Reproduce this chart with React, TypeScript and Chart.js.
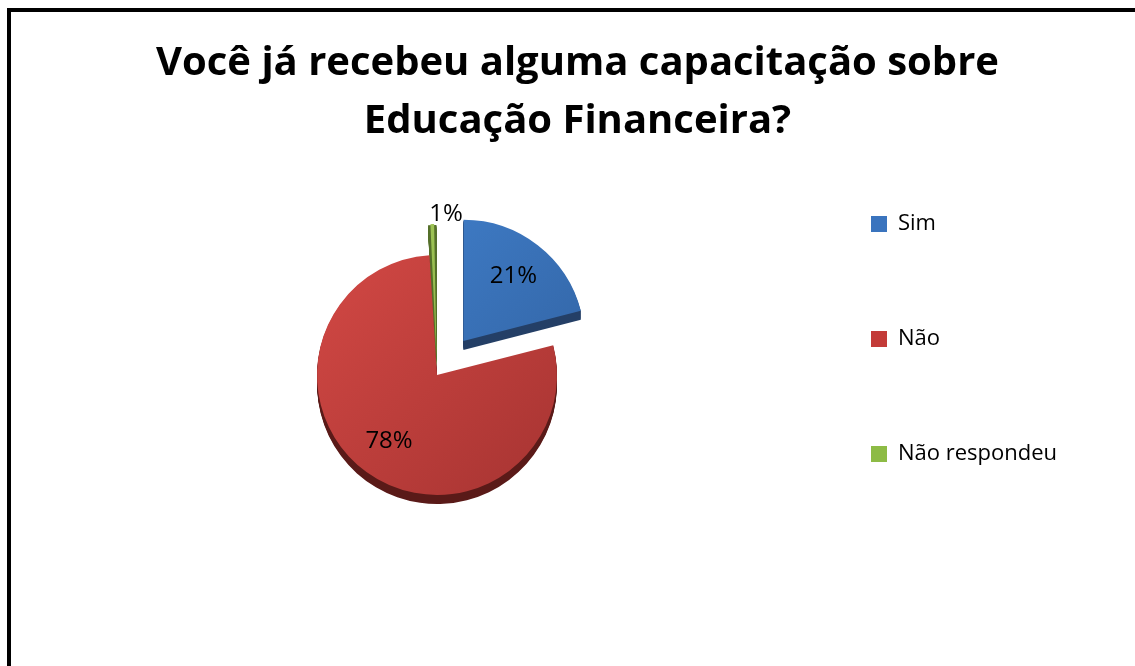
import React, { useEffect, useRef } from 'react';
import { Chart, registerables } from 'chart.js';

Chart.register(...registerables);

const TITLE_LINES = ['Você já recebeu alguma capacitação sobre', 'Educação Financeira?'];
const CATEGORIES = ['Sim', 'Não', 'Não respondeu'];
const VALUES = [21, 78, 1];
const PERCENT_LABELS = ['21%', '78%', '1%'];
const COLORS_LIGHT = ['#4282CF', '#D44945', '#A6CC5C'];
const COLORS_DARK = ['#2F5E9C', '#A53331', '#7FA33C'];
const COLORS_SIDE = ['#243F66', '#5A1A18', '#55702A'];
const LEGEND_COLORS = ['#3A74BE', '#C33B38', '#8DBB45'];
const OFFSETS = [172, 0, 64];

const FONT = "'Open Sans', 'DejaVu Sans', sans-serif";
const DEPTH = 9;

function sliceFill(ctx: any) {
  const chart = ctx.chart;
  const area = chart.chartArea;
  const i = ctx.dataIndex ?? 0;
  if (!area) return LEGEND_COLORS[i];
  const cx = (area.left + area.right) / 2;
  const cy = (area.top + area.bottom) / 2;
  const r = 130;
  const g = chart.ctx.createLinearGradient(cx - r, cy - r, cx + r, cy + r);
  g.addColorStop(0, COLORS_LIGHT[i]);
  g.addColorStop(1, COLORS_DARK[i]);
  return g;
}

function arcGeom(el: any) {
  const { x, y, startAngle, endAngle, outerRadius } = el.getProps(
    ['x', 'y', 'startAngle', 'endAngle', 'outerRadius'],
    true
  );
  const mid = (startAngle + endAngle) / 2;
  const off = (el.options.offset || 0) / 4;
  const circ = endAngle - startAngle;
  const boost = off * (1 - Math.sin(Math.min(Math.PI, circ)));
  return {
    cx: x + Math.cos(mid) * off,
    cy: y + Math.sin(mid) * off,
    startAngle,
    endAngle,
    mid,
    r: outerRadius + boost,
    outerRadius,
  };
}

const depthPlugin = {
  id: 'sliceDepth',
  beforeDatasetsDraw(chart: any) {
    const meta = chart.getDatasetMeta(0);
    const ctx = chart.ctx;
    ctx.save();
    meta.data.forEach((el: any, i: number) => {
      const g = arcGeom(el);
      ctx.fillStyle = COLORS_SIDE[i];
      for (let d = 1; d <= DEPTH; d++) {
        ctx.beginPath();
        ctx.moveTo(g.cx, g.cy + d);
        ctx.arc(g.cx, g.cy + d, g.r, g.startAngle, g.endAngle);
        ctx.closePath();
        ctx.fill();
      }
    });
    ctx.restore();
  },
};

const labelPlugin = {
  id: 'sliceLabels',
  afterDatasetsDraw(chart: any) {
    const meta = chart.getDatasetMeta(0);
    const ctx = chart.ctx;
    ctx.save();
    ctx.font = `24px ${FONT}`;
    ctx.fillStyle = '#000';
    ctx.textAlign = 'center';
    ctx.textBaseline = 'middle';
    meta.data.forEach((el: any, i: number) => {
      const g = arcGeom(el);
      const small = VALUES[i] < 5;
      const r = small ? g.r + 10 : g.outerRadius * 0.68;
      ctx.fillText(
        PERCENT_LABELS[i],
        g.cx + Math.cos(g.mid) * r + (small ? 14 : 0),
        g.cy + Math.sin(g.mid) * r
      );
    });
    ctx.restore();
  },
};

export default function App() {
  const canvasRef = useRef<HTMLCanvasElement | null>(null);

  useEffect(() => {
    document.body.style.overflow = 'hidden';
    const canvas = canvasRef.current;
    if (!canvas) return;
    const chart = new Chart(canvas, {
      type: 'pie',
      data: {
        labels: CATEGORIES,
        datasets: [
          {
            data: VALUES,
            backgroundColor: sliceFill,
            borderWidth: 0,
            offset: OFFSETS,
            hoverOffset: 0,
            radius: 120,
          } as any,
        ],
      },
      options: {
        animation: false,
        responsive: false,
        devicePixelRatio: 1,
        layout: { padding: { left: 85, right: 76, top: 0, bottom: 108 } },
        plugins: {
          title: {
            display: true,
            text: TITLE_LINES,
            color: '#000',
            font: { family: FONT, size: 40, weight: 'bold', lineHeight: 58 / 40 },
            padding: { top: 23, bottom: 41 },
          },
          legend: {
            position: 'right',
            align: 'end',
            maxWidth: 281,
            labels: {
              color: '#000',
              boxWidth: 16,
              boxHeight: 16,
              padding: 93,
              font: { family: FONT, size: 22 },
              generateLabels: () =>
                CATEGORIES.map((c, i) => ({
                  text: c,
                  fillStyle: LEGEND_COLORS[i],
                  strokeStyle: LEGEND_COLORS[i],
                  lineWidth: 0,
                  hidden: false,
                  index: i,
                })),
            },
          },
          tooltip: { enabled: false },
        },
      } as any,
      plugins: [depthPlugin, labelPlugin],
    });
    return () => chart.destroy();
  }, []);

  return (
    <div
      style={{
        position: 'absolute',
        left: 7,
        top: 8,
        width: 1128,
        height: 658,
        boxSizing: 'border-box',
        borderTop: '4px solid #000',
        borderLeft: '4px solid #000',
        background: '#fff',
      }}
    >
      <canvas ref={canvasRef} width={1124} height={654} style={{ display: 'block' }} />
    </div>
  );
}
